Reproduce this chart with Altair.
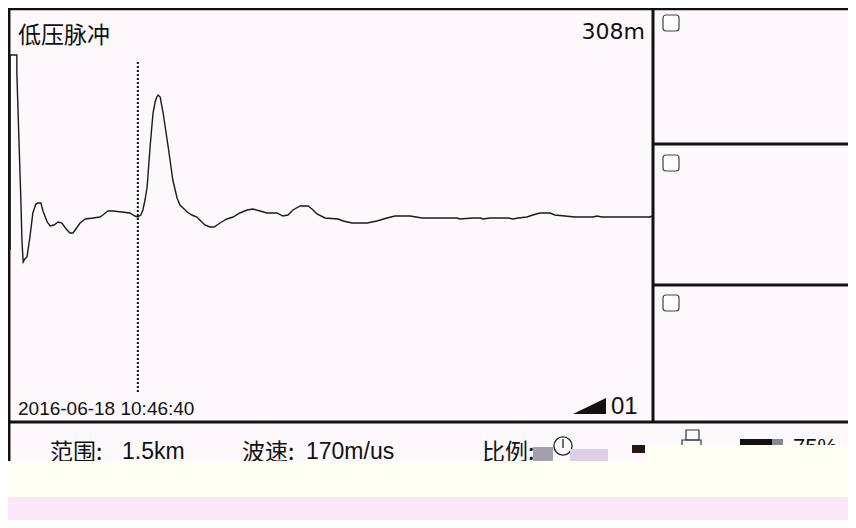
import altair as alt
import pandas as pd

# ---------------- data ----------------
dist_m = [5, 5, 21, 21, 26, 31, 33, 36, 40, 45, 52, 59, 66, 71, 78, 83, 93, 100, 109, 119,
          128, 138, 147, 154, 161, 171, 183, 202, 218, 225, 237, 249, 270, 289, 301, 308,
          315, 320, 325, 330, 337, 344, 349, 353, 356, 361, 368, 380, 391, 401, 408, 425,
          436, 448, 455, 467, 479, 489, 503, 519, 534, 550, 567, 581, 598, 614, 638, 652,
          664, 676, 693, 712, 721, 733, 752, 783, 795, 816, 852, 875, 899, 918, 954, 982,
          1065, 1072, 1103, 1120, 1127, 1143, 1186, 1198, 1210, 1231, 1245, 1262, 1286,
          1297, 1321, 1345, 1388, 1397, 1409, 1523, 1528]
amplitude = [-35, 160, 160, 142, 75, 8, -25, -47, -44, -42, -22, 2, 11, 12, 12, 4, -7, -11,
             -10, -7, -8, -14, -18, -18, -14, -8, -4, -3, -2, 0, 4, 4, 3, 2, -1, -2, 0, 5, 15,
             28, 68, 102, 113, 118, 120, 118, 102, 68, 35, 17, 10, 3, 0, -2, -5, -10, -12,
             -12, -8, -4, -2, 2, 5, 6, 4, 2, 2, -1, 0, 5, 9, 9, 6, 1, -3, -4, -6, -8, -8, -6,
             -3, -1, -1, -3, -3, -4, -3, -3, -4, -3, -3, -4, -3, -2, 0, 2, 2, 0, -1, -2, -2,
             -1, -2, -2, -1]
cursor_m = [308]
cursor_top = [153]
cursor_bottom = [-177]

title_text = "低压脉冲"
cursor_label = "308m"
timestamp = "2016-06-18 10:46:40"
channel_label = "01"
range_label, range_value = "范围:", "1.5km"
speed_label, speed_value = "波速:", "170m/us"
scale_label = "比例:"
battery_label = "75%"

CJK = "Noto Sans CJK SC"
LAT = "Liberation Sans"
INK = "#111111"

xs = alt.Scale(domain=[0, 1530], nice=False, zero=False)
ys = alt.Scale(domain=[-206, 207], nice=False, zero=False)

wave_df = pd.DataFrame({"dist": dist_m, "amp": amplitude})
cursor_df = pd.DataFrame({"dist": cursor_m, "top": cursor_top, "bottom": cursor_bottom})
one = pd.DataFrame({"k": [0]})


def rect(x, x2, y, y2, **kw):
    return alt.Chart(one).mark_rect(**kw).encode(
        x=alt.value(x), x2=alt.value(x2), y=alt.value(y), y2=alt.value(y2))


def hrule(x, x2, y, w=3, color=INK):
    return alt.Chart(one).mark_rule(color=color, strokeWidth=w).encode(
        x=alt.value(x), x2=alt.value(x2), y=alt.value(y))


def vrule(x, y, y2, w=3, color=INK):
    return alt.Chart(one).mark_rule(color=color, strokeWidth=w).encode(
        x=alt.value(x), y=alt.value(y), y2=alt.value(y2))


def label(txt, x, y, size, font=LAT, align="left", color=INK):
    return alt.Chart(one).mark_text(text=txt, align=align, baseline="alphabetic",
                                    font=font, fontSize=size, color=color).encode(
        x=alt.value(x), y=alt.value(y))


wave = alt.Chart(wave_df).mark_line(color="#1a1a1a", strokeWidth=1.4).encode(
    x=alt.X("dist:Q", scale=xs, axis=None),
    y=alt.Y("amp:Q", scale=ys, axis=None),
    order=alt.Order("dist:Q"),
)

cursor = alt.Chart(cursor_df).mark_rule(color="#111111", strokeWidth=2, strokeDash=[2, 2]).encode(
    x=alt.X("dist:Q", scale=xs, axis=None),
    y=alt.Y("top:Q", scale=ys, axis=None),
    y2="bottom:Q",
)

layers = [
    # frame lines
    vrule(1.2, 0, 453, w=2.5),
    hrule(0, 840, 1, w=2.5),
    vrule(645, 0, 414),
    hrule(645, 840, 136),
    hrule(645, 840, 277),
    hrule(0, 840, 414),
    # checkboxes
    rect(655, 671, 7, 23, fill="#fefcfe", stroke="#444444", strokeWidth=1.2, cornerRadius=3),
    rect(655, 671, 147, 163, fill="#fefcfe", stroke="#444444", strokeWidth=1.2, cornerRadius=3),
    rect(655, 671, 287, 303, fill="#fefcfe", stroke="#444444", strokeWidth=1.2, cornerRadius=3),
    # plot content
    wave,
    cursor,
    label(title_text, 10, 35, 23, font=CJK),
    label(cursor_label, 637, 31, 22, font="DejaVu Sans", align="right"),
    label(timestamp, 10, 407, 19),
    alt.Chart(one).mark_point(shape="M -1 0.48 L 1 -0.48 L 1 0.48 Z", filled=True,
                              color=INK, opacity=1, size=1089).encode(
        x=alt.value(581.5), y=alt.value(398)),
    label(channel_label, 603, 406, 24),
    # bottom status row
    label(range_label, 42, 452, 23, font=CJK),
    label(range_value, 114, 451, 23),
    label(speed_label, 234, 452, 23, font=CJK),
    label(speed_value, 298, 451, 23),
    label(scale_label, 474, 452, 23, font=CJK),
    rect(525, 545, 439, 453, fill="#a49fab"),
    alt.Chart(one).mark_point(shape="circle", filled=False, color="#222222", strokeWidth=1.3,
                              size=330, opacity=1).encode(x=alt.value(555), y=alt.value(438)),
    vrule(555, 431, 440, w=1.3, color="#222222"),
    rect(562, 600, 441, 453, fill="#ddd0e6"),
    rect(624, 637, 437, 445, fill="#2a1414"),
    rect(678, 691, 422, 432, fill="none", stroke="#333333", strokeWidth=1.2),
    rect(674, 693, 432, 445, fill="none", stroke="#333333", strokeWidth=1.2),
    rect(732, 764, 431, 445, fill="#111111"),
    rect(764, 775, 431, 445, fill="#8a8690"),
    label(battery_label, 785, 446, 22),
    # lower bands covering the status row
    rect(0, 637, 453, 489, fill="#fffff4"),
    rect(637, 840, 437, 489, fill="#fffff4"),
    rect(0, 840, 489, 512, fill="#f9e6f9"),
]

chart = alt.layer(*layers).properties(
    width=645,
    height=413,
    padding={"left": 0, "top": 0, "right": 195, "bottom": 99},
    autosize=alt.AutoSizeParams(type="none"),
    background="#fcf8fc",
).configure_view(strokeWidth=0)

chart.save("out.html", embed_options={"renderer": "svg", "actions": False})
